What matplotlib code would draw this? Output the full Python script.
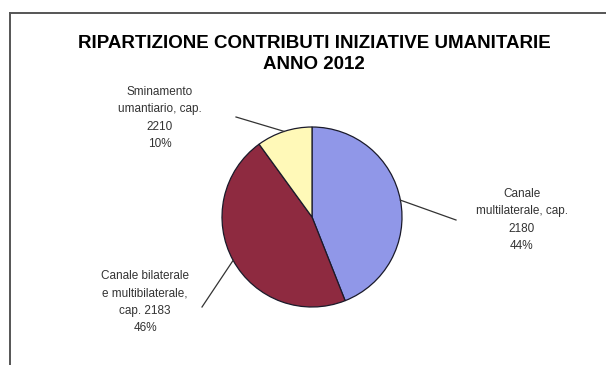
import numpy as np
import matplotlib
matplotlib.use("Agg")
import matplotlib.pyplot as plt
from matplotlib.lines import Line2D

# slices, clockwise from 12 o'clock
labels = [
    "Canale\nmultilaterale, cap.\n2180",
    "Canale bilaterale\ne multibilaterale,\ncap. 2183",
    "Sminamento\numantiario, cap.\n2210",
]
shares = [44, 46, 10]
colors = ["#9097E8", "#8E2A40", "#FFF9B8"]

title = "RIPARTIZIONE CONTRIBUTI INIZIATIVE UMANITARIE\nANNO 2012"

W, H = 606, 365
plt.rcParams["font.family"] = ["Liberation Sans", "DejaVu Sans"]

fig = plt.figure(figsize=(W / 100, H / 100), dpi=100)
fig.patch.set_facecolor("white")

# chart frame (runs off the right and bottom edges)
fx, fy = 10 / W, 1 - 13 / H
fig.add_artist(Line2D([fx, fx], [0, fy], color="#555555", lw=1.4, transform=fig.transFigure))
fig.add_artist(Line2D([fx, 1], [fy, fy], color="#555555", lw=1.4, transform=fig.transFigure))

# axes in pixel units so the pie sits where we want it
ax = fig.add_axes([0, 0, 1, 1])
cx, cy, r = 312, H - 217, 90
wedges, _ = ax.pie(shares, colors=colors, startangle=90, counterclock=False,
                   center=(cx, cy), radius=r, frame=True,
                   wedgeprops=dict(edgecolor="#1a1a2a", linewidth=0.9))
ax.set_xlim(0, W)
ax.set_ylim(0, H)
ax.set_aspect("equal")
ax.axis("off")

fig.text(314 / W, 1 - 54 / H, title, ha="center", va="center", fontsize=13.5,
         fontweight="bold", linespacing=1.3)

# label centre (px), leader end (px)
label_pos = [(522, 220), (145, 302), (160, 118)]
leader_end = [(456, 220), (202, 307), (236, 117)]

for w, pct, lab, (lx, ly), (ex, ey) in zip(wedges, shares, labels, label_pos, leader_end):
    mid = np.deg2rad((w.theta1 + w.theta2) / 2)
    sx, sy = cx + r * np.cos(mid), cy + r * np.sin(mid)
    ax.plot([sx, ex], [sy, H - ey], color="#333333", lw=0.9)
    ax.text(lx, H - ly, f"{lab}\n{pct}%", ha="center", va="center",
            fontsize=8.5, color="#333333", linespacing=1.6)

fig.savefig("out.png", dpi=100)
